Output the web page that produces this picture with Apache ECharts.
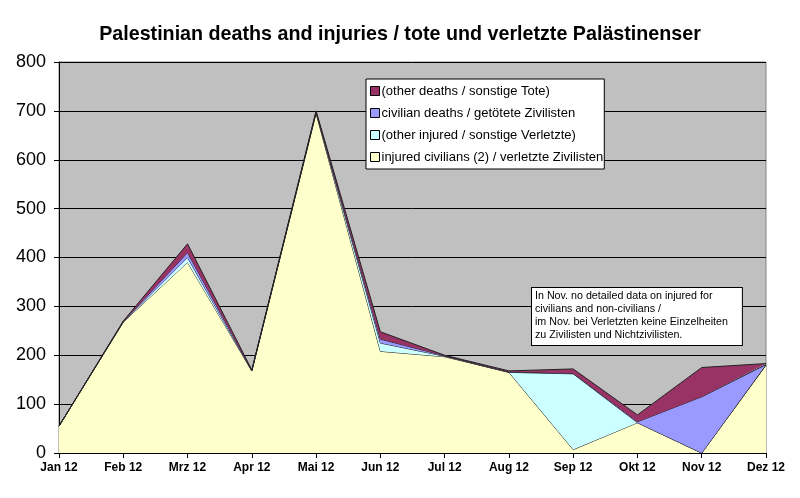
<!DOCTYPE html>
<html><head><meta charset="utf-8">
<script src="https://cdn.jsdelivr.net/npm/echarts@6/dist/echarts.min.js"></script>
<style>html,body{margin:0;padding:0;background:#fff}#c{width:800px;height:498px}</style>
</head><body><div id="c"></div>
<script>
const categories = ['Jan 12','Feb 12','Mrz 12','Apr 12','Mai 12','Jun 12','Jul 12','Aug 12','Sep 12','Okt 12','Nov 12','Dez 12'];
const injuredCivilians = [55, 268, 390, 168, 695, 208, 197, 165, 7, 62, 0, 180];
const otherInjured     = [0, 0, 10, 0, 2, 17, 1, 0, 155, 0, 0, 0];
const civilianDeaths   = [0, 1, 10, 1, 1, 8, 1, 1, 1, 2, 115, 1];
const otherDeaths      = [0, 1, 18, 1, 2, 15, 1, 2, 9, 14, 60, 2];
const yTicks = [0, 100, 200, 300, 400, 500, 600, 700, 800];
const names = ['injured civilians (2) / verletzte Zivilisten','(other injured / sonstige Verletzte)','civilian deaths / getötete Zivilisten','(other deaths / sonstige Tote)'];
const colors = ['#FFFFCC','#CCFFFF','#9999FF','#993366'];
const seriesData = [injuredCivilians, otherInjured, civilianDeaths, otherDeaths];

const chart = echarts.init(document.getElementById('c'));
const font = 'Arial, "Liberation Sans", sans-serif';
chart.setOption({
  animation: false,
  backgroundColor: '#fff',
  title: {
    text: 'Palestinian deaths and injuries / tote und verletzte Palästinenser',
    left: 'center', top: 20,
    textStyle: {fontFamily: font, fontSize: 19.7, fontWeight: 'bold', color: '#000'}
  },
  legend: {
    orient: 'vertical', left: 366, top: 79,
    data: names.slice().reverse(),
    backgroundColor: '#fff', borderColor: '#000', borderWidth: 1,
    padding: [5, 1, 5, 4],
    itemWidth: 9, itemHeight: 9, itemGap: 8, icon: 'rect',
    itemStyle: {borderColor: '#000', borderWidth: 1},
    textStyle: {fontFamily: font, fontSize: 13, color: '#000', lineHeight: 14, padding: [0,0,0,-3]},
    selectedMode: false
  },
  grid: {left: 59, right: 34, top: 62, bottom: 45, show: true, backgroundColor: '#C0C0C0', borderColor: '#808080', borderWidth: 1},
  xAxis: {
    type: 'category', data: categories, boundaryGap: false,
    axisLine: {lineStyle: {color: '#000'}},
    axisTick: {show: true, alignWithLabel: true, length: 5, lineStyle: {color: '#000'}},
    axisLabel: {fontFamily: font, fontSize: 12, fontWeight: 'bold', color: '#000', margin: 9, interval: 0},
    splitLine: {show: false}
  },
  yAxis: {
    type: 'value', min: 0, max: 800, interval: 100,
    axisLine: {show: true, lineStyle: {color: '#000'}},
    axisTick: {show: true, length: 5, lineStyle: {color: '#000'}},
    axisLabel: {fontFamily: font, fontSize: 18, color: '#000', margin: 13,
      formatter: v => yTicks.includes(v) ? String(v) : ''},
    splitLine: {show: true, lineStyle: {color: '#000', width: 1}}
  },
  graphic: [{
    type: 'text', left: 531, top: 287, z: 100,
    style: {
      text: 'In Nov. no detailed data on injured for\ncivilians and non-civilians /\nim Nov. bei Verletzten keine Einzelheiten\nzu Zivilisten und Nichtzivilisten.',
      fontFamily: font, fontSize: 10.7, lineHeight: 13, fill: '#000',
      backgroundColor: '#fff', borderColor: '#000', borderWidth: 1,
      padding: [2, 14, 3, 3]
    }
  }],
  series: seriesData.map((d, i) => ({
    name: names[i], type: 'line', stack: 'total', data: d,
    symbol: 'none', smooth: false,
    lineStyle: {color: '#222', width: 1},
    itemStyle: {color: colors[i]},
    areaStyle: {color: colors[i], opacity: 1},
    z: 2 + i
  }))
});
</script></body></html>
